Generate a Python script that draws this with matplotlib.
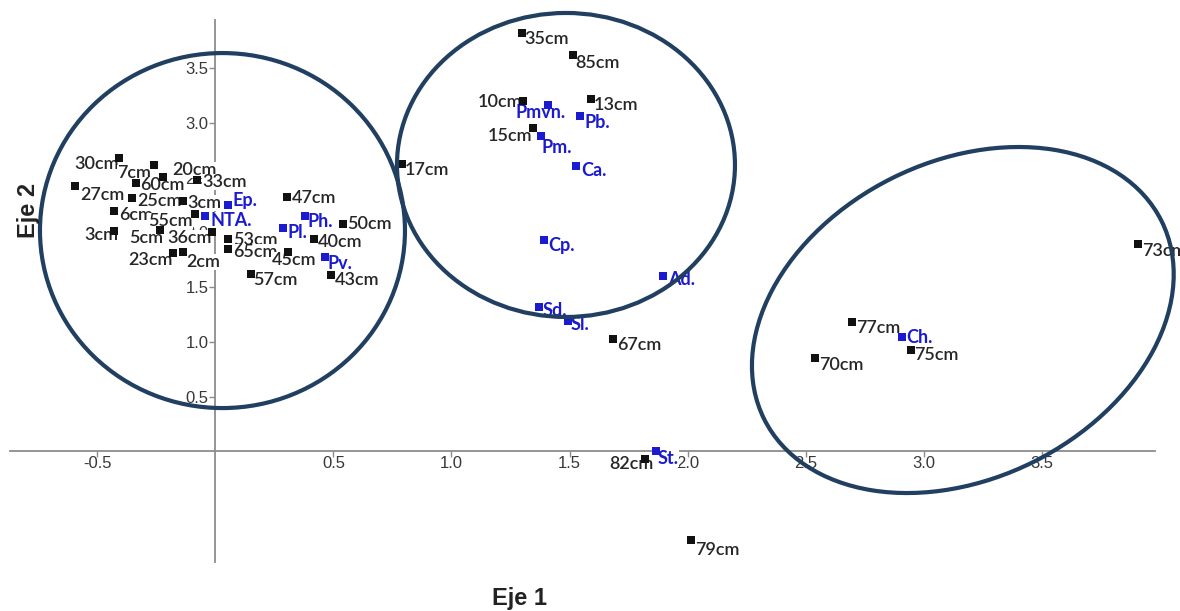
import numpy as np
import matplotlib
matplotlib.use('Agg')
import matplotlib.pyplot as plt
from matplotlib.patches import Ellipse
from matplotlib.transforms import ScaledTranslation

# muestras (profundidades)
muestras = ['30cm', '7cm', '20cm', '60cm', '33cm', '27cm', '25cm', '3cm', '6cm', '55cm',
            '47cm', '50cm', '40cm', '3cm', '5cm', '36cm', '53cm', '65cm', '23cm', '2cm',
            '45cm', '57cm', '43cm', '35cm', '85cm', '10cm', '13cm', '15cm', '17cm', '67cm',
            '77cm', '75cm', '70cm', '73cm', '82cm', '79cm']
m_x = [-0.408, -0.260, -0.222, -0.336, -0.078, -0.595, -0.353, -0.137, -0.429, -0.086,
       0.303, 0.540, 0.418, -0.429, -0.235, -0.014, 0.053, 0.053, -0.180, -0.137,
       0.308, 0.151, 0.490, 1.297, 1.513, 1.302, 1.590, 1.344, 0.789, 1.685,
       2.695, 2.946, 2.540, 3.908, 1.820, 2.015]
m_y = [2.680, 2.616, 2.506, 2.451, 2.479, 2.424, 2.314, 2.287, 2.196, 2.168,
       2.323, 2.077, 1.940, 2.013, 2.022, 2.004, 1.940, 1.848, 1.812, 1.821,
       1.821, 1.620, 1.611, 3.824, 3.620, 3.203, 3.218, 2.956, 2.625, 1.024,
       1.184, 0.928, 0.850, 1.894, -0.072, -0.809]

# especies
especies = ['Ep.', 'NTA.', 'Ph.', 'Pl.', 'Pv.', 'Pmvn.', 'Pb.', 'Pm.', 'Ca.', 'Cp.',
            'Ad.', 'Sd.', 'Sl.', 'Ch.', 'St.']
e_x = [0.053, -0.044, 0.379, 0.286, 0.464, 1.410, 1.545, 1.378, 1.527, 1.393,
       1.897, 1.372, 1.495, 2.907, 1.866]
e_y = [2.250, 2.150, 2.150, 2.040, 1.775, 3.163, 3.066, 2.880, 2.609, 1.931,
       1.602, 1.316, 1.194, 1.047, 0.006]

xticks = [-0.5, 0.5, 1.0, 1.5, 2.0, 2.5, 3.0, 3.5]
yticks = [0.5, 1.0, 1.5, 2.0, 2.5, 3.0, 3.5]

# desplazamiento de etiquetas (pixeles, y hacia abajo) y alineacion
m_off = [(0, 6, 'right'), (-3, 8, 'right'), (9, -7, 'left'), (4, 2, 'left'), (5, 2, 'left'),
         (5, 9, 'left'), (5, 3, 'left'), (4, 2, 'left'), (5, 4, 'left'), (-2, 7, 'right'),
         (5, 1, 'left'), (4, 0, 'left'), (4, 3, 'left'), (4, 4, 'right'), (3, 8, 'right'),
         (0, 6, 'right'), (5, 1, 'left'), (5, 3, 'left'), (0, 7, 'right'), (3, 10, 'left'),
         (6, 8, 'center'), (2, 6, 'left'), (4, 5, 'left'), (3, 6, 'left'), (3, 8, 'left'),
         (0, 1, 'right'), (3, 6, 'left'), (0, 8, 'right'), (3, 6, 'left'), (4, 6, 'left'),
         (4, 6, 'left'), (3, 5, 'left'), (4, 7, 'left'), (4, 7, 'left'), (9, 5, 'right'),
         (4, 10, 'left')]
e_off = [(5, -5, 'left'), (5, 5, 'left'), (3, 6, 'left'), (5, 4, 'left'), (3, 6, 'left'),
         (-8, 7, 'center'), (4, 7, 'left'), (1, 11, 'left'), (5, 5, 'left'), (4, 6, 'left'),
         (5, 4, 'left'), (3, 3, 'left'), (2, 4, 'left'), (5, 1, 'left'), (2, 8, 'left')]

# grupos marcados con elipses: centro (datos), ancho, alto (pulgadas), angulo
grupos = [((0.030, 2.017), 3.65, 3.55, 0),
          ((1.485, 2.616), 3.38, 3.04, 0),
          ((3.166, 1.200), 4.44, 3.17, 26.5)]

fig = plt.figure(figsize=(11.8, 6.11), dpi=100)
ax = fig.add_axes([10/1180, 49/611, 1145/1180, 542/611])
ax.set_xlim(-0.87, 3.98)
ax.set_ylim(-1.01, 3.94)

for s in ['top', 'right']:
    ax.spines[s].set_visible(False)
for s in ['left', 'bottom']:
    ax.spines[s].set_position('zero')
    ax.spines[s].set_color('#8c8c8c')
    ax.spines[s].set_linewidth(1.3)

ax.set_xticks(xticks)
ax.set_xticklabels(['%.1f' % t for t in xticks])
ax.set_yticks(yticks)
ax.set_yticklabels(['%.1f' % t for t in yticks])
ax.tick_params(direction='out', length=4, width=1, color='#8c8c8c',
               labelsize=12, labelcolor='#383838')
ax.tick_params(axis='x', pad=-1)
ax.tick_params(axis='y', pad=1)
for lab in ax.get_xticklabels() + ax.get_yticklabels():
    lab.set_family('Liberation Sans')

ax.scatter(m_x, m_y, marker='s', s=28, color='#111111', zorder=4, linewidths=0)
ax.scatter(e_x, e_y, marker='s', s=28, color='#1a1ad0', zorder=4, linewidths=0)

for lab, x, y, (dx, dy, ha) in zip(muestras, m_x, m_y, m_off):
    ax.annotate(lab, (x, y), xytext=(dx, -dy), textcoords='offset pixels',
                ha=ha, va='center', fontsize=13, family='Lato', weight='semibold',
                color='#262626',
                bbox=dict(facecolor='white', edgecolor='none', pad=0), zorder=3)
for lab, x, y, (dx, dy, ha) in zip(especies, e_x, e_y, e_off):
    ax.annotate(lab, (x, y), xytext=(dx, -dy), textcoords='offset pixels',
                ha=ha, va='center', fontsize=13, family='Lato', weight='bold',
                color='#1a1ad0', bbox=dict(facecolor='white', edgecolor='none', pad=0),
                zorder=3)

for (c, w, h, ang) in grupos:
    tr = fig.dpi_scale_trans + ScaledTranslation(c[0], c[1], ax.transData)
    ax.add_patch(Ellipse((0, 0), w, h, angle=ang, transform=tr, fill=False,
                         edgecolor='#213f61', linewidth=3, zorder=6, clip_on=False))

fig.text(520/1180, 1 - 598/611, 'Eje 1', ha='center', va='center', fontsize=17,
         weight='bold', family='Liberation Sans', color='#222222')
fig.text(29/1180, 1 - 210/611, 'Eje 2', ha='center', va='center', fontsize=17,
         weight='bold', family='Liberation Sans', color='#222222', rotation=90)

fig.savefig('out.png', dpi=100)
